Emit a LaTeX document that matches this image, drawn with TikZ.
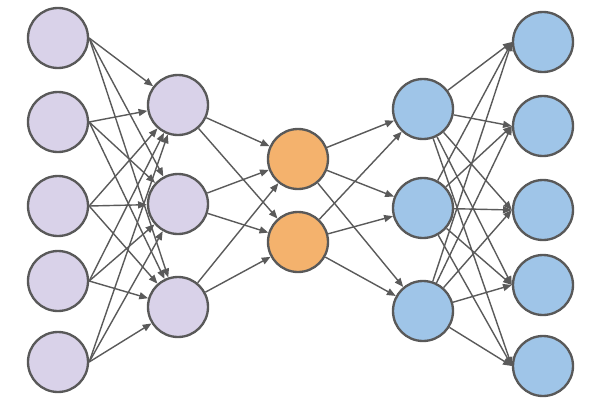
\documentclass[tikz,border=0pt]{standalone}
\usetikzlibrary{arrows.meta}
\definecolor{lavender}{HTML}{D9D2E9}
\definecolor{peach}{HTML}{F4B26D}
\definecolor{skyblue}{HTML}{9FC5E8}
\definecolor{rimgray}{HTML}{595959}
\definecolor{wiregray}{HTML}{5A5A5A}
\begin{document}
\begin{tikzpicture}[x=0.03cm, y=-0.03cm, every node/.style={circle, draw=rimgray, line width=2pt, minimum size=1.8cm, inner sep=0pt}, link/.style={draw=wiregray, line width=1.2pt, -{Triangle[length=7.5pt,width=6pt]}}]
            \useasboundingbox (0,0) rectangle (614,414);
            \foreach \i/\y in {1/38,2/122,3/206,4/281,5/362} {
                \node[fill=lavender] (in\i) at (58,\y) {};
                \node[fill=skyblue] (out\i) at (543,\y+4) {};
            }
            \foreach \i/\y in {1/105,2/204,3/307} {
                \node[fill=lavender] (enc\i) at (178,\y) {};
            }
            \foreach \i/\y in {1/109,2/208,3/311} {
                \node[fill=skyblue] (dec\i) at (423,\y) {};
            }
            \node[fill=peach] (code1) at (298,159) {};
            \node[fill=peach] (code2) at (298,242) {};
            % encoder side
            \foreach \i in {1,...,5} \foreach \j in {1,2,3} \draw[link] (in\i.east) -- (enc\j);
            \foreach \i in {1,2,3} \foreach \j in {1,2} \draw[link] (enc\i) -- (code\j);
            % decoder side
            \foreach \i in {1,2} \foreach \j in {1,2,3} \draw[link] (code\i) -- (dec\j);
            \foreach \i in {1,2,3} \foreach \j in {1,...,5} \draw[link] (dec\i) -- (out\j.west);
        \end{tikzpicture}
\end{document}
